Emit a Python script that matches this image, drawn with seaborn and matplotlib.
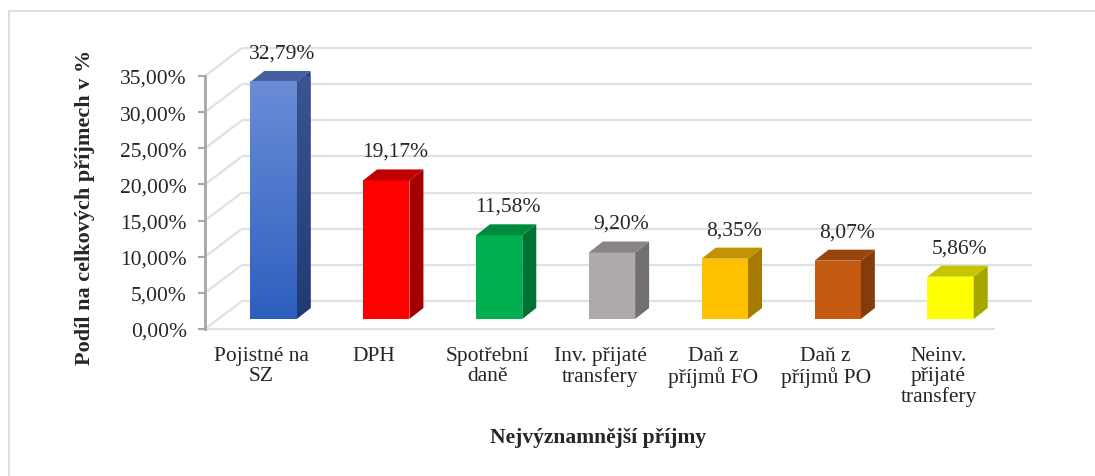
import matplotlib
matplotlib.use("Agg")
import matplotlib.pyplot as plt
import numpy as np
import pandas as pd
import seaborn as sns
from matplotlib.colors import LinearSegmentedColormap
from matplotlib.patches import Polygon, Rectangle
from matplotlib.ticker import FuncFormatter
from matplotlib.transforms import ScaledTranslation

# data
categories = ["Pojistné na\nSZ", "DPH", "Spotřební\ndaně", "Inv. přijaté\ntransfery",
              "Daň z\npříjmů FO", "Daň z\npříjmů PO", "Neinv.\npřijaté\ntransfery"]
shares = [32.79, 19.17, 11.58, 9.20, 8.35, 8.07, 5.86]
y_ticks = [0, 5, 10, 15, 20, 25, 30, 35]

front_colors = ["#3f6fcc", "#ff0000", "#00b050", "#aeaaaa", "#ffc000", "#c55a11", "#ffff00"]
side_colors = ["#243f7d", "#a50000", "#007233", "#747070", "#a57c00", "#843c0c", "#a6a600"]
top_colors = ["#44609e", "#c00000", "#008a3e", "#898585", "#c29200", "#97450c", "#c4c400"]

sns.set_style("white")
plt.rcParams["font.family"] = ["Liberation Serif", "DejaVu Serif"]
FS = 15.5

W, H = 1095, 477
fig = plt.figure(figsize=(W / 100, H / 100), dpi=100)
ax = fig.add_axes([205 / W, 1 - 330 / H, 790 / W, 253 / H])

df = pd.DataFrame({"kat": categories, "podil": shares})
sns.barplot(data=df, x="kat", y="podil", hue="kat", palette=front_colors,
            saturation=1, width=0.41, legend=False, linewidth=0, ax=ax, zorder=3)

ax.set_xlim(-0.5, 6.5)
ax.set_ylim(0, 35)

# pixel scale of the front plane
px_x = 790 / 7
px_y = 253 / 35

# bars sit a bit back from the front plane
bar_tr = ax.transData + ScaledTranslation(12 / 100, 10 / 100, fig.dpi_scale_trans)
dx, dy = 14 / px_x, 11 / px_y

patches = sorted(ax.patches, key=lambda p: p.get_x())
for i, p in enumerate(patches):
    p.set_transform(bar_tr)
    p.set_clip_on(False)
    x0, x1, h = p.get_x(), p.get_x() + p.get_width(), p.get_height()
    side = Polygon([(x1, 0), (x1 + dx, dy), (x1 + dx, h + dy), (x1, h)], closed=True,
                   facecolor=side_colors[i], edgecolor="none", transform=bar_tr,
                   clip_on=False, zorder=3)
    top = Polygon([(x0, h), (x1, h), (x1 + dx, h + dy), (x0 + dx, h + dy)], closed=True,
                  facecolor=top_colors[i], edgecolor="none", transform=bar_tr,
                  clip_on=False, zorder=3)
    ax.add_patch(side)
    ax.add_patch(top)
    if i == 0:
        # gradient on the first (blue) bar
        grad = np.linspace(0, 1, 256).reshape(-1, 1)
        cm_front = LinearSegmentedColormap.from_list("f", ["#6a8dd6", "#2d5fbf"])
        im = ax.imshow(grad, extent=[x0, x1, 0, h], transform=bar_tr, cmap=cm_front,
                       aspect="auto", origin="upper", zorder=3.2)
        im.set_clip_on(False)
        cm_side = LinearSegmentedColormap.from_list("s", ["#3a5592", "#1f3a73"])
        im2 = ax.imshow(grad, extent=[x1, x1 + dx, 0, h + dy], transform=bar_tr,
                        cmap=cm_side, aspect="auto", origin="upper", zorder=3.2)
        im2.set_clip_path(side)

    label = f"{shares[i]:.2f}".replace(".", ",") + "%"
    ax.annotate(label, xy=(x0 + (x1 - x0) / 2, h), xytext=(21, 39),
                textcoords="offset pixels", ha="center", va="center", fontsize=FS)

ax.set_xlim(-0.5, 6.5)
ax.set_ylim(0, 35)

# back wall, side wall and floor grid
gx, gy = 37 / px_x, 28 / px_y
grid_kw = dict(color="#dde1e8", lw=1.6, clip_on=False, zorder=1, solid_capstyle="butt")
for t in y_ticks:
    ax.plot([-0.5 + gx, 6.5 + gx], [t + gy, t + gy], **grid_kw)
    ax.plot([-0.5, -0.5 + gx], [t, t + gy], **grid_kw)
ax.plot([-0.5, 6.5], [0, 0], **grid_kw)

ax.grid(False)
for s in ["top", "right", "bottom"]:
    ax.spines[s].set_visible(False)
ax.spines["left"].set_color("#a6a6a6")
ax.spines["left"].set_linewidth(2)
ax.spines["left"].set_zorder(4)

ax.set_yticks(y_ticks)
ax.yaxis.set_major_formatter(FuncFormatter(lambda v, _: f"{v:.2f}".replace(".", ",") + "%"))
ax.tick_params(axis="y", length=5, width=1.5, color="#a6a6a6", pad=8, labelsize=FS, left=True)
ax.tick_params(axis="x", length=0, pad=12, labelsize=FS)
for lbl in ax.get_xticklabels():
    lbl.set_linespacing(1.1)

ax.set_xlabel("Nejvýznamnější příjmy", fontsize=FS, fontweight="bold")
ax.xaxis.set_label_coords(0.497, -0.427)
ax.xaxis.label.set_va("center")
ax.set_ylabel("Podíl na celkových příjmech v %", fontsize=16, fontweight="bold")
ax.yaxis.set_label_coords(-0.152, 0.486)
ax.yaxis.label.set_va("center")

# chart area border
fig.add_artist(Rectangle((9 / W, -0.1), 1.2, (H - 12) / H + 0.1, transform=fig.transFigure,
                         fill=False, edgecolor="#dadee6", lw=1.5))

fig.savefig("out.png", dpi=100)
